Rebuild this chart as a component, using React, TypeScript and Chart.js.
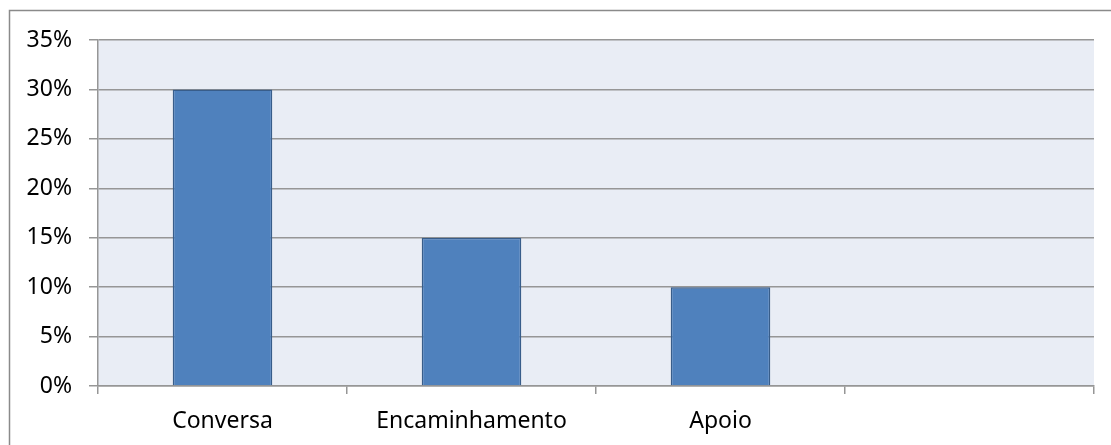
import React, { useEffect, useRef } from "react";
import { Chart, registerables } from "chart.js";

Chart.register(...registerables);

const categories = ["Conversa", "Encaminhamento", "Apoio", ""];
const values = [0.30, 0.15, 0.10, null];
const yMin = 0;
const yMax = 0.35;
const yStep = 0.05;

const FONT = "'Noto Sans', sans-serif";
const GRID = "#969696";

export default function App() {
  const ref = useRef<HTMLCanvasElement | null>(null);
  useEffect(() => {
    document.body.style.margin = "0";
    const canvas = ref.current!;
    const bgPlugin = {
      id: "bg",
      beforeDraw(chart: any) {
        const { ctx, chartArea: a } = chart;
        ctx.save();
        ctx.fillStyle = "#ffffff";
        ctx.fillRect(0, 0, chart.width, chart.height);
        ctx.fillStyle = "#E9EDF5";
        ctx.fillRect(a.left, a.top, a.right - a.left, a.bottom - a.top);
        ctx.strokeStyle = "#8a8a8a";
        ctx.lineWidth = 1.5;
        ctx.strokeRect(9.5, 10.5, chart.width + 20, chart.height + 20);
        ctx.restore();
      },
    };
    const chart = new Chart(canvas, {
      type: "bar",
      data: {
        labels: categories,
        datasets: [
          {
            data: values as any,
            backgroundColor: "#4F81BD",
            borderColor: "#385D8A",
            borderWidth: 1.5,
            categoryPercentage: 1,
            barPercentage: 0.4,
          },
        ],
      },
      options: {
        animation: false,
        responsive: false,
        devicePixelRatio: 1,
        layout: { padding: { top: 40, right: 17, left: 0, bottom: 0 } },
        plugins: { legend: { display: false }, tooltip: { enabled: false } },
        scales: {
          x: {
            offset: true,
            grid: {
              offset: true,
              drawOnChartArea: false,
              drawTicks: true,
              tickLength: 8,
              color: GRID,
              lineWidth: 1.5,
            },
            border: { color: GRID, width: 1.5 },
            ticks: {
              font: { family: FONT, size: 23 },
              color: "#000",
              padding: 14,
              maxRotation: 0,
              autoSkip: false,
            },
            afterFit(scale: any) {
              scale.height = 59;
            },
          },
          y: {
            min: yMin,
            max: yMax,
            grid: {
              color: GRID,
              lineWidth: 1.5,
              drawTicks: true,
              tickLength: 9,
            },
            border: { color: GRID, width: 1.5 },
            ticks: {
              stepSize: yStep,
              font: { family: FONT, size: 23 },
              color: "#000",
              padding: 17,
              callback: (v: any) => Math.round(Number(v) * 100) + "%",
            },
            afterFit(scale: any) {
              scale.width = 98;
            },
          },
        },
      },
      plugins: [bgPlugin],
    });
    return () => chart.destroy();
  }, []);
  return <canvas ref={ref} width={1111} height={445} style={{ display: "block" }} />;
}
